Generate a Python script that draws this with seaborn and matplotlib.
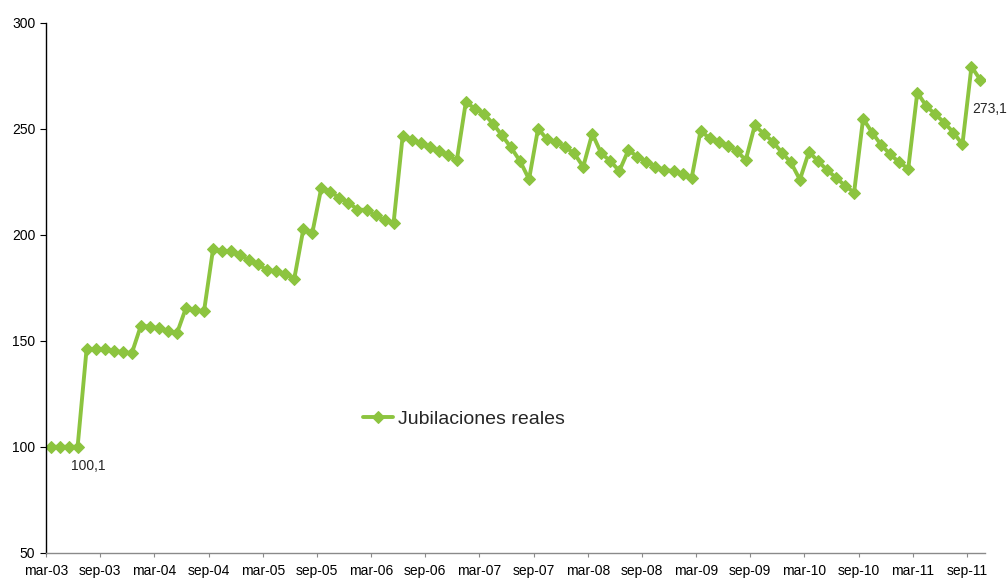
import numpy as np
import pandas as pd
import matplotlib
matplotlib.use("Agg")
import matplotlib.pyplot as plt
import seaborn as sns

# ---- data ----
months = pd.date_range("2003-03-01", "2011-10-01", freq="MS")
values = [
    100.1, 100.1, 100.1, 100.1,
    146.4, 146.1, 146.0, 145.3, 144.8, 144.2,
    157.1, 156.8, 156.0, 154.7, 153.6,
    165.6, 164.6, 164.0,
    193.3, 192.5, 192.3, 190.7, 188.0, 186.2, 183.3, 183.0,
    181.5, 179.4,
    202.7, 201.1,
    222.4, 220.3, 217.6, 215.3, 212.0, 211.8, 209.3, 207.1, 205.8,
    246.6, 244.6, 243.5, 241.5, 239.4, 237.6, 235.2,
    262.7, 259.6, 257.3, 252.5, 247.0, 241.3, 234.9, 226.3,
    250.2, 245.1, 243.9, 241.5, 238.5, 232.2,
    247.8, 238.5, 234.9, 230.2,
    240.0, 237.0, 234.6, 232.3, 230.6, 230.2, 228.6, 226.7,
    249.2, 245.6, 244.0, 242.1, 239.7, 235.3,
    251.7, 247.8, 244.0, 238.9, 234.2, 226.1,
    239.2, 234.9, 230.7, 227.0, 223.3, 220.0,
    254.9, 248.3, 242.5, 238.1, 234.2, 231.3,
    267.2, 260.8, 256.9, 253.0, 248.3, 242.8,
    279.4, 273.1,
]
series_name = "Jubilaciones reales"
tick_labels = ["mar-03", "sep-03", "mar-04", "sep-04", "mar-05", "sep-05",
               "mar-06", "sep-06", "mar-07", "sep-07", "mar-08", "sep-08",
               "mar-09", "sep-09", "mar-10", "sep-10", "mar-11", "sep-11"]
first_label = "100,1"
last_label = "273,1"
y_ticks = [50, 100, 150, 200, 250, 300]

# ---- plot ----
sns.set_style("ticks")
plt.rcParams["font.family"] = ["Liberation Sans", "DejaVu Sans"]

df = pd.DataFrame({"pos": np.arange(len(values)), "month": months,
                   "value": values, "serie": series_name})

fig = plt.figure(figsize=(10.07, 5.81), dpi=100)
ax = fig.add_axes([46 / 1007, 1 - 553 / 581, (985 - 46) / 1007, (553 - 23) / 581])

green = "#8CC43F"
sns.lineplot(data=df, x="pos", y="value", hue="serie", palette=[green],
             marker="D", markersize=6, markeredgecolor=green,
             linewidth=2.8, ax=ax)

ax.set_xlim(-0.5, len(values) - 0.5)
ax.set_ylim(50, 300)
ax.set_yticks(y_ticks)
ax.set_xticks(np.arange(len(tick_labels)) * 6 - 0.5)
ax.set_xticklabels(tick_labels)
ax.set_xlabel("")
ax.set_ylabel("")

sns.despine(ax=ax)
ax.spines["left"].set_color("black")
ax.spines["left"].set_linewidth(1.0)
ax.spines["bottom"].set_color("#8a8a8a")
ax.spines["bottom"].set_linewidth(1.0)
ax.tick_params(axis="y", direction="out", length=4.3, width=0.8, pad=3.5,
               labelsize=10, colors="black")
ax.tick_params(axis="x", direction="out", length=3, width=0.8, pad=5,
               labelsize=10, color="#8a8a8a", labelcolor="black")

ax.annotate(first_label, xy=(3, values[3]), xytext=(7.5, -13.5),
            textcoords="offset points", ha="center", va="center", fontsize=10)
ax.annotate(last_label, xy=(len(values) - 1, values[-1]), xytext=(-5.8, -21),
            textcoords="offset points", ha="left", va="center", fontsize=10,
            annotation_clip=False)

leg = ax.legend(loc="center left", bbox_to_anchor=(363 / 1007, 1 - 419 / 581),
                bbox_transform=fig.transFigure, frameon=False, fontsize=14,
                handlelength=1.55, handletextpad=0.27, borderpad=0,
                borderaxespad=0)

fig.savefig("out.png", dpi=100)
